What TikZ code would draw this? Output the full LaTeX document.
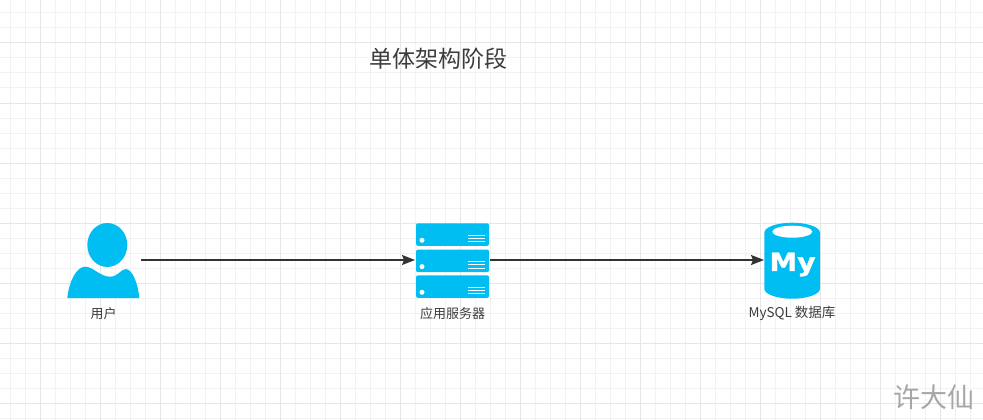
\documentclass[tikz,border=0pt]{standalone}
\usepackage{fontspec}
\setmainfont{Noto Sans CJK SC}
\newfontfamily\myfont[BoldFeatures={FakeBold=1.5}]{DejaVu Sans}
\usetikzlibrary{arrows.meta,positioning}
\definecolor{iconblue}{HTML}{00BEF2}
\definecolor{labelgray}{HTML}{3C3C3C}
\definecolor{linegray}{HTML}{333333}
\definecolor{minorgrid}{HTML}{F2F2F2}
\definecolor{majorgrid}{HTML}{E6E6E6}
\definecolor{markgray}{HTML}{A6A6A6}

\begin{document}
\begin{tikzpicture}[x=1pt,y=-1pt,>={Stealth[length=13pt,width=10pt,inset=2pt]},
                    icon/.style={inner sep=0pt,outer sep=0pt,minimum height=76pt},
                    tag/.style={text=labelgray,font=\fontsize{13}{15}\selectfont,node distance=53.5pt},
                    link/.style={->,line width=1.6pt,draw=linegray}]
  \useasboundingbox (0,0) rectangle (983,420);

  % grid
  \foreach \gx in {10,25,...,980} \draw[minorgrid,line width=1pt] (\gx,0) -- (\gx,420);
  \foreach \gy in {13,28,...,418} \draw[minorgrid,line width=1pt] (0,\gy) -- (983,\gy);
  \foreach \gx in {40,100,...,940} \draw[majorgrid,line width=1pt] (\gx,0) -- (\gx,420);
  \foreach \gy in {43,103,...,403} \draw[majorgrid,line width=1pt] (0,\gy) -- (983,\gy);

  \node[text=labelgray,font=\fontsize{23}{27}\selectfont] (title) at (438.5,59) {单体架构阶段};

  \node[icon,minimum width=75pt] (user) at (103.5,260) {};
  \node[icon,minimum width=75pt,right=274pt of user] (server) {};
  \node[icon,minimum width=56pt,right=274pt of server] (mysql) {};

  % user
  \fill[iconblue] (107.3,245) ellipse [x radius=20,y radius=22];
  \fill[iconblue] (67.3,298) .. controls (69,282) and (76,267) .. (85,266.7)
     .. controls (93,266.5) and (100,276.7) .. (110,276.7)
     .. controls (118,276.7) and (121,269) .. (126,269)
     .. controls (133,270) and (138,284) .. (139.3,298) -- cycle;

  % server
  \foreach \top in {223.3,249.6,275.3} {
    \fill[iconblue,rounded corners=2pt] (416,\top) rectangle (489,\top+22.6);
    \fill[white] (422,\top+17) circle (2.5);
    \foreach \off in {11.7,15,18.4}
      \draw[white,line width=0.9pt] (468.3,\top+\off) -- (485,\top+\off);
  }

  % mysql
  \fill[iconblue] (764.3,232.7) arc [start angle=180,end angle=360,x radius=27.85,y radius=10]
     -- (820,288.7) arc [start angle=0,end angle=180,x radius=27.85,y radius=10] -- cycle;
  \fill[white] (792.3,231.7) ellipse [x radius=20,y radius=6];
  \node[text=white,inner sep=0pt,xscale=1.12,font=\myfont\bfseries\fontsize{25}{27}\selectfont] (mylogo) at (792.5,264.5) {My};

  \node[tag,below of=user] (userlabel) {用户};
  \node[tag,below of=server] (serverlabel) {应用服务器};
  \node[tag,below of=mysql,font=\fontsize{13.5}{15}\selectfont] (mysqllabel) {MySQL 数据库};

  \draw[link] (user) -- (server);
  \draw[link] (server) -- (mysql);

  \node[text=markgray,font=\fontsize{27}{30}\selectfont] (mark) at (934,397) {许大仙};
\end{tikzpicture}
\end{document}
